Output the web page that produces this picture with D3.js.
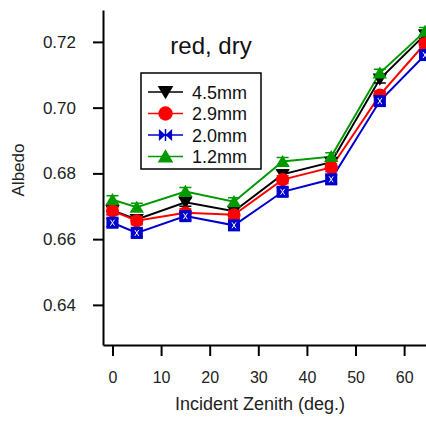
<!DOCTYPE html>
<html>
<head>
<meta charset="utf-8">
<script src="https://cdn.jsdelivr.net/npm/d3@7"></script>
<style>
  body { margin: 0; background: #fff; }
  text { font-family: "Liberation Sans", Arial, sans-serif; }
</style>
</head>
<body>
<div id="chart"></div>
<script>
// incident zenith angles (deg.)
const angles = [0, 5, 15, 25, 35, 45, 55, 64.3];

const labels = ["4.5mm", "2.9mm", "2.0mm", "1.2mm"];
const colors = ["#000000", "#ff0000", "#0000cc", "#009900"];
const shapes = ["tri-down", "circle", "bowtie", "tri-up"];

const albedo_45 = [0.6687, 0.6660, 0.6712, 0.6685, 0.6797, 0.6834, 0.7087, 0.7222];
const albedo_29 = [0.6686, 0.6656, 0.6680, 0.6674, 0.6781, 0.6818, 0.7038, 0.7195];
const albedo_20 = [0.6650, 0.6619, 0.6670, 0.6642, 0.6744, 0.6782, 0.7020, 0.7160];
const albedo_12 = [0.6720, 0.6697, 0.6745, 0.6714, 0.6836, 0.6851, 0.7105, 0.7232];
const errs = [0.0012, 0.0012, 0.0012, 0.0012];

const yTicks = [0.64, 0.66, 0.68, 0.70, 0.72];
const xTicks = [0, 10, 20, 30, 40, 50, 60];

const seriesVals = [albedo_45, albedo_29, albedo_20, albedo_12];

const W = 426, H = 421;
const margin = {left: 103, top: 10, right: 0, bottom: 76};

const svg = d3.select("#chart").append("svg")
    .attr("width", W)
    .attr("height", H);

const x = d3.scaleLinear().domain([-1.95, 64.5]).range([margin.left, W]);
const y = d3.scaleLinear().domain([0.6278, 0.7297]).range([H - margin.bottom, margin.top]);

svg.append("clipPath").attr("id", "clip")
    .append("rect")
    .attr("x", margin.left).attr("y", 0)
    .attr("width", W - margin.left).attr("height", H - margin.bottom);

// axes
const yAxis = svg.append("g")
    .attr("transform", "translate(" + margin.left + ",0)")
    .call(d3.axisLeft(y).tickValues(yTicks).tickFormat(d3.format(".2f")).tickSize(10).tickSizeOuter(0));
yAxis.select(".domain").attr("stroke-width", 2);
yAxis.selectAll(".tick line").attr("stroke-width", 2);
yAxis.selectAll("text").attr("font-size", 17).attr("x", -27).attr("fill", "#222");

const xAxis = svg.append("g")
    .attr("transform", "translate(0," + (H - margin.bottom) + ")")
    .call(d3.axisBottom(x).tickValues(xTicks).tickSize(11).tickSizeOuter(0));
xAxis.select(".domain").attr("stroke-width", 2);
xAxis.selectAll(".tick line").attr("stroke-width", 2);
xAxis.selectAll("text").attr("font-size", 16).attr("y", 27).attr("fill", "#222");

svg.append("text")
    .attr("transform", "translate(24,170) rotate(-90)")
    .attr("text-anchor", "middle")
    .attr("font-size", 17)
    .attr("fill", "#222")
    .text("Albedo");

svg.append("text")
    .attr("x", 260).attr("y", 410)
    .attr("text-anchor", "middle")
    .attr("font-size", 18)
    .attr("fill", "#222")
    .text("Incident Zenith (deg.)");

svg.append("text")
    .attr("x", 211).attr("y", 54)
    .attr("text-anchor", "middle")
    .attr("font-size", 24)
    .attr("fill", "#111")
    .text("red, dry");

function drawMarker(g, shape, color, cx, cy, s) {
    if (shape === "circle") {
        g.append("circle").attr("cx", cx).attr("cy", cy).attr("r", s * 0.6).attr("fill", color);
    } else if (shape === "tri-down") {
        g.append("path")
            .attr("d", "M" + (cx - s * 0.65) + "," + (cy - s * 0.5) + "L" + (cx + s * 0.65) + "," + (cy - s * 0.5) + "L" + cx + "," + (cy + s * 0.6) + "Z")
            .attr("fill", color);
    } else if (shape === "tri-up") {
        g.append("path")
            .attr("d", "M" + (cx - s * 0.65) + "," + (cy + s * 0.5) + "L" + (cx + s * 0.65) + "," + (cy + s * 0.5) + "L" + cx + "," + (cy - s * 0.6) + "Z")
            .attr("fill", color);
    } else if (shape === "bowtie") {
        g.append("path")
            .attr("d", "M" + (cx - s * 0.55) + "," + (cy - s * 0.5) + "L" + cx + "," + cy + "L" + (cx - s * 0.55) + "," + (cy + s * 0.5) + "Z" +
                "M" + (cx + s * 0.55) + "," + (cy - s * 0.5) + "L" + cx + "," + cy + "L" + (cx + s * 0.55) + "," + (cy + s * 0.5) + "Z")
            .attr("fill", color);
        g.append("line").attr("x1", cx).attr("x2", cx).attr("y1", cy - s * 0.5).attr("y2", cy + s * 0.5)
            .attr("stroke", color).attr("stroke-width", 1.5);
    } else if (shape === "square") {
        g.append("rect").attr("x", cx - s * 0.55).attr("y", cy - s * 0.55)
            .attr("width", s * 1.1).attr("height", s * 1.1).attr("fill", color);
        g.append("path")
            .attr("d", "M" + (cx - 2) + "," + (cy - 3) + "L" + (cx + 2) + "," + (cy + 3) +
                "M" + (cx + 2) + "," + (cy - 3) + "L" + (cx - 2) + "," + (cy + 3))
            .attr("stroke", "#fff").attr("stroke-width", 1);
    }
}

const plot = svg.append("g").attr("clip-path", "url(#clip)");

const line = d3.line().x(d => x(d[0])).y(d => y(d[1]));

seriesVals.forEach(function (vals, i) {
    const pts = angles.map((a, k) => [a, vals[k]]);
    plot.append("path")
        .datum(pts)
        .attr("fill", "none")
        .attr("stroke", colors[i])
        .attr("stroke-width", 2)
        .attr("d", line);
});

seriesVals.forEach(function (vals, i) {
    const g = plot.append("g");
    angles.forEach(function (a, k) {
        const cx = x(a), cy = y(vals[k]);
        const top = y(vals[k] + errs[i]), bot = y(vals[k] - errs[i]);
        g.append("path")
            .attr("d", "M" + cx + "," + top + "L" + cx + "," + bot +
                "M" + (cx - 6) + "," + top + "L" + (cx + 6) + "," + top +
                "M" + (cx - 6) + "," + bot + "L" + (cx + 6) + "," + bot)
            .attr("stroke", colors[i]).attr("stroke-width", 1.5).attr("fill", "none");
        drawMarker(g, shapes[i] === "bowtie" ? "square" : shapes[i], colors[i], cx, cy, 11);
    });
});

// legend
const legend = svg.append("g");
legend.append("rect")
    .attr("x", 141).attr("y", 73)
    .attr("width", 120).attr("height", 96)
    .attr("fill", "#fff").attr("stroke", "#000").attr("stroke-width", 1.5);

labels.forEach(function (lab, i) {
    const ly = 92 + i * 21.5;
    legend.append("line")
        .attr("x1", 148).attr("x2", 183).attr("y1", ly).attr("y2", ly)
        .attr("stroke", colors[i]).attr("stroke-width", 1.5);
    drawMarker(legend, shapes[i], colors[i], 165.5, ly, 12);
    legend.append("text")
        .attr("x", 192).attr("y", ly + 6.5)
        .attr("font-size", 18)
        .attr("fill", "#111")
        .text(lab);
});
</script>
</body>
</html>
